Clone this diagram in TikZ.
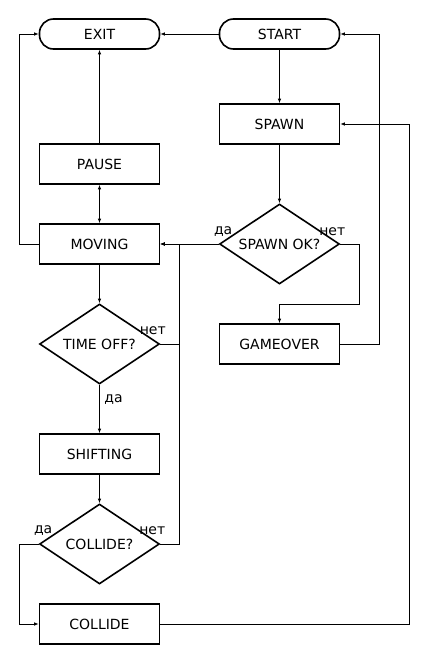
\documentclass[tikz,border=0pt]{standalone}
\usepackage{fontspec}
\setmainfont{DejaVu Sans}
\usetikzlibrary{shapes.geometric,arrows.meta,calc}
\begin{document}
\begin{tikzpicture}[x=1pt,y=-1pt,
  txt/.style={font=\fontsize{14}{16}\selectfont},
  box/.style={txt,draw,line width=1.6pt,minimum width=120pt,minimum height=40pt,inner sep=0pt},
  term/.style={box,minimum height=30pt,rounded corners=14pt},
  dec/.style={diamond,draw,line width=1.6pt,minimum width=120pt,minimum height=80pt,inner sep=0pt},
  conn/.style={line width=0.8pt,-{Latex[length=4.5pt,width=3.5pt]}},
  lbl/.style={txt,inner sep=0pt}]
\useasboundingbox (0,0) rectangle (430,659);
\node[term] (exit) at (99.5,34) {EXIT};
\node[term] (start) at (279.5,34) {START};
\node[box] (spawn) at (279.5,124) {SPAWN};
\node[box] (pause) at (99.5,164) {PAUSE};
\node[box] (moving) at (99.5,244) {MOVING};
\node[dec,label={[txt]center:SPAWN OK?}] (spawnok) at (279.5,244) {};
\node[dec,label={[txt]center:TIME OFF?}] (timeoff) at (99.5,344) {};
\node[box] (gameover) at (279.5,344) {GAMEOVER};
\node[box] (shifting) at (99.5,454) {SHIFTING};
\node[dec,label={[txt]center:COLLIDE?}] (collideq) at (99.5,544) {};
\node[box] (collide) at (99.5,624) {COLLIDE};
\coordinate (c1) at (359,304);
\coordinate (c2) at (379,34);
\coordinate (c3) at (19,34);
\coordinate (c4) at (179,244);
\coordinate (c5) at (19,544);
\coordinate (c6) at (409,124);
\draw[conn] (start) -- (exit);
\draw[conn] (start) -- (spawn);
\draw[conn] (spawn) -- (spawnok);
\draw[conn] (spawnok.west) -- (moving.east);
\draw[conn] (spawnok.east) -| (c1) -| (gameover.north);
\draw[conn] (gameover.east) -| (c2) -- (start.east);
\draw[conn] (moving.west) -| (c3) -- (exit.west);
\draw[conn] (pause) -- (exit);
\draw[line width=0.8pt,{Latex[length=4.5pt,width=3.5pt]}-{Latex[length=4.5pt,width=3.5pt]}] (pause) -- (moving);
\draw[conn] (moving) -- (timeoff);
\draw[conn] (timeoff.east) -| (c4) -- (moving.east);
\draw[conn] (timeoff) -- (shifting);
\draw[conn] (shifting) -- (collideq);
\draw[conn] (collideq.east) -| (c4) -- (moving.east);
\draw[conn] (collideq.west) -| (c5) |- (collide.west);
\draw[conn] (collide.east) -| (c6) -- (spawn.east);
\node[lbl] (l1) at ($(spawnok.west)+(4.5,-12)$) {да};
\node[lbl] (l2) at ($(spawnok.east)+(-8,-12)$) {нет};
\node[lbl] (l3) at ($(timeoff.east)+(-7.5,-13)$) {нет};
\node[lbl] (l4) at ($(timeoff.south)+(14,15)$) {да};
\node[lbl] (l5) at ($(collideq.west)+(4.5,-13)$) {да};
\node[lbl] (l6) at ($(collideq.east)+(-8,-13)$) {нет};
\end{tikzpicture}
\end{document}
